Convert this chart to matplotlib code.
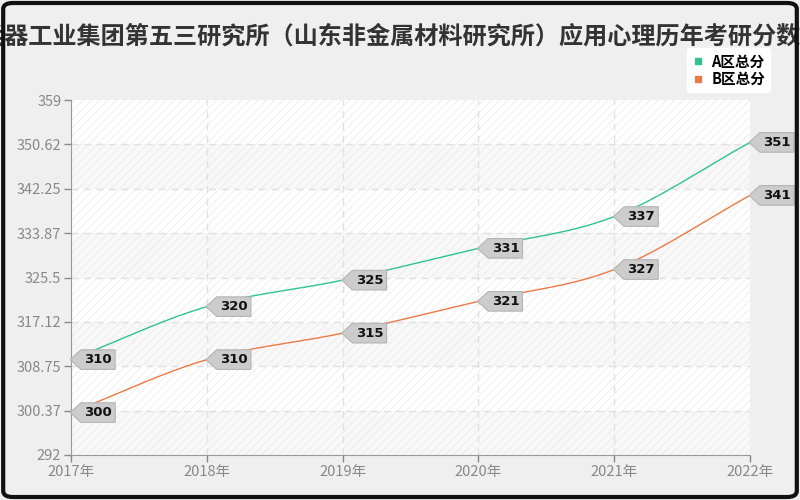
import numpy as np
import matplotlib
matplotlib.use("Agg")
import matplotlib.pyplot as plt
from matplotlib.patches import FancyBboxPatch, Rectangle
from matplotlib.lines import Line2D
from matplotlib.path import Path

plt.rcParams['font.family'] = ['Noto Sans CJK SC', 'DejaVu Sans']
plt.rcParams['hatch.linewidth'] = 0.5

title = "兵器工业集团第五三研究所（山东非金属材料研究所）应用心理历年考研分数线"
years = ["2017年", "2018年", "2019年", "2020年", "2021年", "2022年"]
scoresA = [310, 320, 325, 331, 337, 351]
scoresB = [300, 310, 315, 321, 327, 341]
yticks = [292, 300.37, 308.75, 317.12, 325.5, 333.87, 342.25, 350.62, 359]
ytickLabels = ["292", "300.37", "308.75", "317.12", "325.5", "333.87", "342.25", "350.62", "359"]

colorA = "#2fc393"
colorB = "#ec7a45"


def smoothCurve(xs, ys, steps=30):
    # cubic hermite through the points, only used to draw the line smoothly
    xs = np.asarray(xs, float)
    ys = np.asarray(ys, float)
    slopes = np.gradient(ys, xs)
    outX, outY = [], []
    for i in range(len(xs) - 1):
        h = xs[i + 1] - xs[i]
        t = np.linspace(0, 1, steps)
        h00 = 2 * t ** 3 - 3 * t ** 2 + 1
        h10 = t ** 3 - 2 * t ** 2 + t
        h01 = -2 * t ** 3 + 3 * t ** 2
        h11 = t ** 3 - t ** 2
        outX.extend(xs[i] + t * h)
        outY.extend(h00 * ys[i] + h10 * h * slopes[i] + h01 * ys[i + 1] + h11 * h * slopes[i + 1])
    return outX, outY


def tagBox(x0, y0, width, height, mutation_size):
    # label box with a pointed left side
    pad = 0.25 * mutation_size
    x0, y0 = x0 - pad, y0 - pad
    width, height = width + 2 * pad, height + 2 * pad
    tip = height * 0.55
    verts = [(x0 - tip, y0 + height / 2), (x0, y0), (x0 + width, y0), (x0 + width, y0 + height),
             (x0, y0 + height), (x0 - tip, y0 + height / 2)]
    codes = [Path.MOVETO] + [Path.LINETO] * 4 + [Path.CLOSEPOLY]
    return Path(verts, codes)


fig = plt.figure(figsize=(8, 5), dpi=100)
fig.patch.set_facecolor("#efefef")
fig.patches.append(FancyBboxPatch((0.004, 0.006), 0.992, 0.988, boxstyle="round,pad=0,rounding_size=0.012",
                                  transform=fig.transFigure, fc="none", ec="#111111", lw=3, zorder=10))

ax = fig.add_axes([0.08875, 0.09, 0.84875, 0.71])
ax.set_facecolor("white")
xPos = np.arange(len(years))
ax.set_xlim(0, len(years) - 1)
ax.set_ylim(yticks[0], yticks[-1])

# alternating bands with faint hatching
for i in range(len(yticks) - 1):
    fc = "#ffffff" if i % 2 == 1 else "#f8f8f8"
    ax.add_patch(Rectangle((0, yticks[i]), len(years) - 1, yticks[i + 1] - yticks[i], fc=fc,
                           ec="#e8e8e8", hatch="////", lw=0, zorder=0))

for y in yticks[1:-1]:
    ax.axhline(y, color="#e0e0e0", lw=1, ls=(0, (5, 4)), zorder=1)
for x in xPos[1:-1]:
    ax.axvline(x, color="#e0e0e0", lw=1, ls=(0, (5, 4)), zorder=1)

for vals, col in [(scoresA, colorA), (scoresB, colorB)]:
    sx, sy = smoothCurve(xPos, vals)
    ax.plot(sx, sy, color=col, lw=1, zorder=3, clip_on=False)
    for x, v in zip(xPos, vals):
        ax.annotate(str(v), xy=(x, v), xytext=(9.5, 0), textcoords="offset points", ha="left", va="center",
                    fontsize=9.5, fontweight="bold", color="#111111", family="DejaVu Sans", zorder=5,
                    annotation_clip=False,
                    bbox=dict(boxstyle=tagBox, fc="#cccccc", ec="#b4b4b4", lw=0.8))

ax.set_xticks(xPos)
ax.set_xticklabels(years)
ax.set_yticks(yticks)
ax.set_yticklabels(ytickLabels)
ax.tick_params(colors="#888888", labelsize=10.5, length=5, width=1, labelcolor="#888888", pad=2)
for side in ["top", "right"]:
    ax.spines[side].set_visible(False)
for side in ["left", "bottom"]:
    ax.spines[side].set_color("#999999")

fig.text(0.503, 0.926, title, ha="center", va="center", fontsize=17.4, fontweight="bold", color="#333333")

handles = [Line2D([], [], marker="s", color=colorA, ls="none", markersize=4, label="A区总分"),
           Line2D([], [], marker="s", color=colorB, ls="none", markersize=4, label="B区总分")]
leg = fig.legend(handles=handles, loc="upper right", bbox_to_anchor=(0.972, 0.918), frameon=True,
                 fontsize=10.5, handlelength=0.8, handletextpad=0.5, labelspacing=0.1, borderpad=0.35,
                 fancybox=True, framealpha=1)
leg.get_frame().set_edgecolor("white")
for t in leg.get_texts():
    t.set_fontweight("bold")

fig.savefig("out.png", dpi=100, facecolor=fig.get_facecolor())
